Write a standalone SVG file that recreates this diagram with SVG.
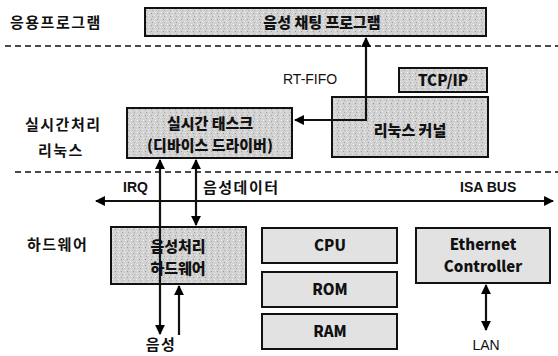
<svg xmlns="http://www.w3.org/2000/svg" width="558" height="356" viewBox="0 0 558 356">
<defs>
<marker id="ah" viewBox="0 0 10 10" refX="9" refY="5" markerWidth="5" markerHeight="4.5" orient="auto-start-reverse" markerUnits="strokeWidth">
<path d="M0,0 L10,5 L0,10 z" fill="#000"/>
</marker>
<pattern id="grain" width="6" height="6" patternUnits="userSpaceOnUse">
<rect width="6" height="6" fill="#d2d2d2"/>
<rect x="1" y="1" width="1" height="1" fill="#9a9a9a"/>
<rect x="4" y="3" width="1" height="1" fill="#eeeeee"/>
<rect x="2" y="4" width="1" height="1" fill="#aaaaaa"/>
<rect x="5" y="0" width="1" height="1" fill="#f2f2f2"/>
</pattern>
</defs>
<style>
.lbl{font-family:"Noto Sans CJK KR","Liberation Sans",sans-serif;font-size:15px;font-weight:700;fill:#111;letter-spacing:1.5px}
.box{fill:url(#grain);stroke:#111;stroke-width:2}
.light{fill:#e2e2e2;stroke:#111;stroke-width:2}
.bt{font-family:"Noto Sans CJK KR","Liberation Sans",sans-serif;font-size:15px;font-weight:900;fill:#111;text-anchor:middle}
.lt{font-family:"Liberation Sans",sans-serif;font-size:14px;fill:#111}
.dash{stroke:#111;stroke-width:1.6;stroke-dasharray:6 4;fill:none}
.conn{stroke:#111;stroke-width:2.2;fill:none}
</style>
<rect width="558" height="356" fill="#fff"/>
<line class="dash" x1="5" y1="46" x2="558" y2="46"/>
<line class="dash" x1="15" y1="172" x2="558" y2="172"/>
<text class="lbl" x="10" y="28">응용프로그램</text>
<text class="lbl" x="25" y="130">실시간처리</text>
<text class="lbl" x="38" y="156">리눅스</text>
<text class="lbl" x="27" y="250">하드웨어</text>
<g id="app"><rect class="box" x="145" y="8" width="341" height="28"/><text class="bt" x="322" y="28" font-size="16">음성 채팅 프로그램</text></g>
<g id="tcpip"><rect class="box" x="399" y="68" width="88" height="24"/><text class="bt" x="443" y="86" font-family="Liberation Sans">TCP/IP</text></g>
<g id="kernel"><rect class="box" x="332" y="97" width="156" height="60"/><text class="bt" x="410" y="136" font-size="16">리눅스 커널</text></g>
<g id="rttask"><rect class="box" x="127" y="108" width="165" height="50"/><text class="bt" x="210" y="129" font-size="16">실시간 태스크</text><text class="bt" x="210" y="151" font-size="16">(디바이스 드라이버)</text></g>
<g id="audiohw"><rect class="box" x="111" y="227" width="135" height="57"/><text class="bt" x="178" y="252">음성처리</text><text class="bt" x="178" y="274">하드웨어</text></g>
<g id="cpu"><rect class="light" x="262" y="228" width="135" height="35"/><text class="bt" x="330" y="251" font-family="Liberation Sans">CPU</text></g>
<g id="rom"><rect class="light" x="262" y="272" width="135" height="35"/><text class="bt" x="330" y="295" font-family="Liberation Sans">ROM</text></g>
<g id="ram"><rect class="light" x="262" y="314" width="135" height="35"/><text class="bt" x="330" y="337" font-family="Liberation Sans">RAM</text></g>
<g id="ethernet"><rect class="light" x="416" y="228" width="134" height="55"/><text class="bt" x="483" y="250" font-family="Liberation Sans">Ethernet</text><text class="bt" x="483" y="272" font-family="Liberation Sans">Controller</text></g>
<g id="connectors">
<path class="conn" d="M295,120 H366 V38" marker-start="url(#ah)" marker-end="url(#ah)"/>
<line class="conn" x1="96" y1="201" x2="553" y2="201" marker-start="url(#ah)" marker-end="url(#ah)"/>
<line class="conn" x1="160" y1="160" x2="160" y2="334" marker-start="url(#ah)" marker-end="url(#ah)"/>
<line class="conn" x1="196" y1="160" x2="196" y2="225" marker-start="url(#ah)" marker-end="url(#ah)"/>
<line class="conn" x1="179" y1="335" x2="179" y2="286" marker-end="url(#ah)"/>
<line class="conn" x1="486" y1="285" x2="486" y2="330" marker-start="url(#ah)" marker-end="url(#ah)"/>
</g>
<text class="lt" x="283" y="84" font-size="16">RT-FIFO</text>
<text class="lt" x="123" y="192" font-weight="700" font-size="13">IRQ</text>
<text class="lbl" x="203" y="193" letter-spacing="0.5">음성데이터</text>
<text class="lt" x="460" y="192" font-weight="700" font-size="13.5">ISA BUS</text>
<text class="lt" x="486" y="350" text-anchor="middle" font-size="15">LAN</text>
<text class="lbl" x="161" y="350" text-anchor="middle" letter-spacing="0" font-size="14">음성</text>
</svg>
